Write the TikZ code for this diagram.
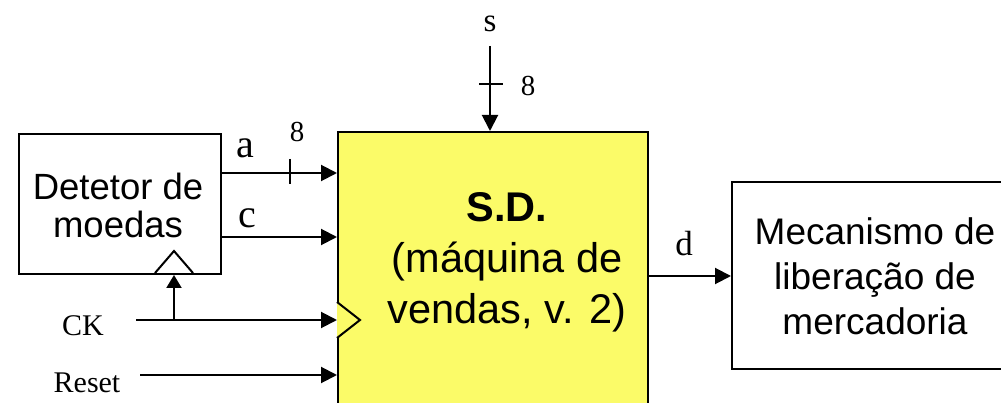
\documentclass[tikz,border=0pt]{standalone}
\usepackage{fontspec}
\setmainfont{Liberation Serif}
\setsansfont{Liberation Sans}
\usetikzlibrary{arrows.meta}
\definecolor{sdyellow}{RGB}{251,251,104}
\begin{document}
\begin{tikzpicture}[x=1pt,y=-1pt,line width=2pt,
  arr/.style={-{Triangle[length=16pt,width=16pt]}},
  box/.style={draw,rectangle,inner sep=0pt,anchor=north west},
  boxtext/.style={font=\sffamily\fontsize{36.5}{40}\selectfont,align=center},
  lbl/.style={font=\fontsize{40}{42}\selectfont,anchor=base,inner sep=0pt},
  small/.style={font=\fontsize{29}{30}\selectfont,anchor=base,inner sep=0pt},
  sig/.style={font=\fontsize{30}{32}\selectfont,anchor=base,inner sep=0pt}]
\useasboundingbox (0,0) rectangle (1001,403);
\clip (0,0) rectangle (1001,403);
% boxes
\node[box,minimum width=202pt,minimum height=140pt] (det) at (18,133) {};
\node[boxtext] (dettext) at (118,205) {Detetor de\\[-2pt]moedas};
\node[box,fill=sdyellow,minimum width=310pt,minimum height=320pt] (sd) at (337,131) {};
\node[font=\sffamily\fontsize{41.5}{51}\selectfont,align=center] (sdtext) at (507,262) {\textbf{S.D.}\\(máquina de\\vendas, v. 2)};
\node[box,minimum width=300pt,minimum height=187pt] (mech) at (731,181) {};
\node[font=\sffamily\fontsize{37}{45}\selectfont,align=center] (mechtext) at (875,276) {Mecanismo de\\liberação de\\mercadoria};
% clock triangles
\draw[fill=sdyellow] (337,302) coordinate (sdck1) -- (360,320) coordinate (sdck2) -- (337,338) coordinate (sdck3);
\draw[fill=white] (155,273) coordinate (detck1) -- (174,251) coordinate (detck2) -- (193,273) coordinate (detck3);
% a
\coordinate (aY) at (0,173);
\draw[arr] (det.east |- aY) -- (sd.west |- aY);
\draw (290,159) -- (290,184);
\node[lbl] (a) at (245,158) {a};
\node[small] (a8) at (297,142) {8};
% c
\coordinate (cY) at (0,237);
\draw[arr] (det.east |- cY) -- (sd.west |- cY);
\node[lbl] (c) at (247,228) {c};
% s
\node[font=\fontsize{33}{34}\selectfont,anchor=base,inner sep=0pt] (s) at (490,32) {s};
\coordinate (stop) at (490,46);
\draw[arr] (stop) -- (sd.north -| stop);
\draw (479,84) -- (503,84);
\node[small] (s8) at (528,96) {8};
% d
\coordinate (dY) at (0,276);
\draw[arr] (sd.east |- dY) -- (mech.west |- dY);
\node[font=\fontsize{35}{36}\selectfont,anchor=base,inner sep=0pt] (d) at (684,256) {d};
% CK
\node[sig] (ck) at (83,335) {CK};
\coordinate (ckstart) at (136,320);
\coordinate (ckjoin) at (174,320);
\draw[arr] (ckstart) -- (sd.west |- ckstart);
\draw[-{Triangle[length=13pt,width=15pt]}] (ckjoin) -- (detck2 |- det.south);
% Reset
\node[sig] (reset) at (87,392) {Reset};
\coordinate (rstart) at (140,375);
\draw[arr] (rstart) -- (sd.west |- rstart);
\end{tikzpicture}
\end{document}
